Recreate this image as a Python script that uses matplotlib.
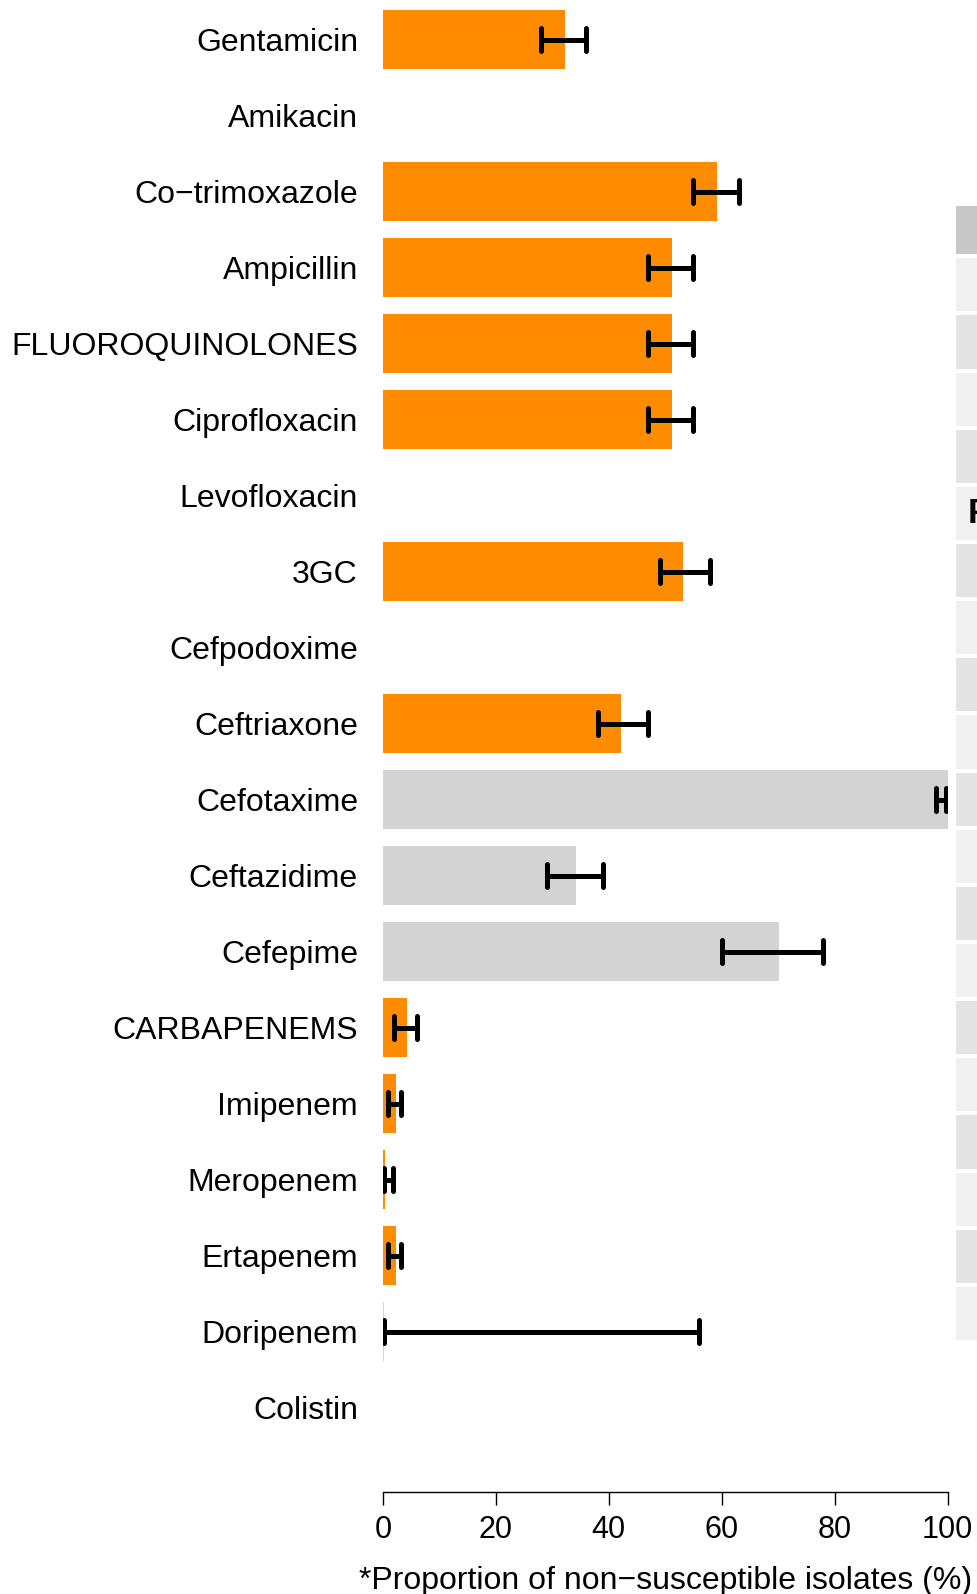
import matplotlib
matplotlib.use('Agg')
import matplotlib.pyplot as plt
import numpy as np

plt.rcParams['font.family'] = ['Liberation Sans', 'DejaVu Sans']

# antibiotics, top to bottom
drugs = ['Gentamicin', 'Amikacin', 'Co\u2212trimoxazole', 'Ampicillin', 'FLUOROQUINOLONES',
         'Ciprofloxacin', 'Levofloxacin', '3GC', 'Cefpodoxime', 'Ceftriaxone', 'Cefotaxime',
         'Ceftazidime', 'Cefepime', 'CARBAPENEMS', 'Imipenem', 'Meropenem', 'Ertapenem',
         'Doripenem', 'Colistin']
# % non-susceptible (nan = no data)
pct = [32.3, np.nan, 59.2, 51.2, 51.2, 51.2, np.nan, 53.2, np.nan, 42.2, 100, 34.2, 70.2,
       4.2, 2.3, 0.3, 2.3, 0.2, np.nan]
ci_lo = [28, np.nan, 55, 47, 47, 47, np.nan, 49, np.nan, 38, 98, 29, 60, 2, 0.8, 0.2, 0.9, 0.1, np.nan]
ci_hi = [36, np.nan, 63, 55, 55, 55, np.nan, 58, np.nan, 47, 99.7, 39, 78, 6, 3.2, 1.8, 3.2, 56, np.nan]
# low-n flag -> grey bar
low_n = [False] * 10 + [True, True, True] + [False] * 4 + [True, False]

ORANGE = '#ff8c00'
GREY = '#d3d3d3'

W, H = 977, 1594
fig = plt.figure(figsize=(W / 100, H / 100), dpi=100)

# main panel: axes spans x 0..100 -> px 383..947.5, y from fig top to axis line at px 1492
ax = fig.add_axes([383 / W, (H - 1492) / H, (947.5 - 383) / W, 1492 / H])
pitch = 76.0
top_off = 39.6 / pitch
ax.set_ylim((1492 - 39.6) / pitch, -top_off)
ax.set_xlim(0, 100)

y = np.arange(len(drugs))
vals = np.array(pct, dtype=float)
cols = [GREY if g else ORANGE for g in low_n]
ax.barh(y, np.nan_to_num(vals), height=0.78, color=cols, edgecolor='none')

lo = np.array(ci_lo, dtype=float); hi = np.array(ci_hi, dtype=float)
ok = ~np.isnan(vals)
cap = 0.155
lw_err = 3.6
hl = ax.hlines(y[ok], lo[ok], hi[ok], color='black', lw=lw_err)
hl.set_capstyle('round')
for xs in (lo, hi):
    vl = ax.vlines(xs[ok], y[ok] - cap, y[ok] + cap, color='black', lw=lw_err)
    vl.set_capstyle('round')

ax.set_yticks(y)
ax.set_yticklabels(drugs, fontsize=23)
ax.tick_params(axis='y', length=0, pad=18)

ax.set_xticks([0, 20, 40, 60, 80, 100])
ax.tick_params(axis='x', length=9.5, width=1.0, labelsize=22, pad=7)
ax.set_xlabel('*Proportion of non\u2212susceptible isolates (%)', fontsize=23, labelpad=15)
for s in ('top', 'right', 'left'):
    ax.spines[s].set_visible(False)
ax.spines['bottom'].set_linewidth(1.0)
ax.spines['bottom'].set_bounds(0, 100)
ax.set_facecolor('none')

# table panel on the right, mostly cut off by the figure edge
n_rows = len(drugs)
tx = fig.add_axes([956 / W, (H - 1342) / H, 0.2, (1342 - 206) / H])
tx.set_xlim(0, 1)
tx.set_ylim(n_rows, -0.88)
row_cols = ['#f0f0f0' if k % 2 == 0 else '#e4e4e4' for k in range(n_rows)]
tx.barh(np.arange(n_rows) + 0.5, 1, height=0.93, color=row_cols, edgecolor='none', align='center')
tx.barh(-0.47, 1, height=0.86, color='#c8c8c8', edgecolor='none')
tx.text(0.06, 4.5, 'F', fontsize=25, fontweight='bold', va='center', ha='left')
tx.axis('off')

fig.savefig('out.png', dpi=100)
